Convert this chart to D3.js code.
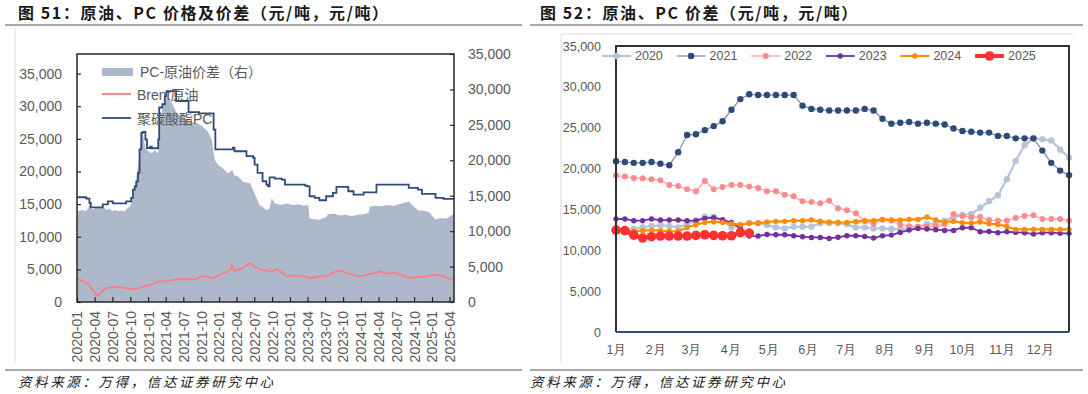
<!DOCTYPE html>
<html>
<head>
<meta charset="utf-8">
<script src="https://cdn.jsdelivr.net/npm/d3@7"></script>
<style>
  body { margin: 0; background: #fff; }
  svg { display: block; font-family: "Liberation Sans", "Noto Sans CJK SC", sans-serif; }
</style>
</head>
<body>
<svg id="chart" width="1088" height="394"></svg>
<script>
// ---------- 图51 data ----------
const leftXLabels = ["2020-01","2020-04","2020-07","2020-10","2021-01","2021-04","2021-07","2021-10",
  "2022-01","2022-04","2022-07","2022-10","2023-01","2023-04","2023-07","2023-10",
  "2024-01","2024-04","2024-07","2024-10","2025-01","2025-04"];
const leftYTicks = [0, 5000, 10000, 15000, 20000, 25000, 30000, 35000];
const rightYTicks = [0, 5000, 10000, 15000, 20000, 25000, 30000, 35000];

// 聚碳酸酯PC (left axis, step changes)
const pcDates = ["2020-01-01","2020-02-18","2020-03-05","2020-03-12","2020-05-12","2020-06-08","2020-07-03",
  "2020-09-10","2020-10-06","2020-10-15","2020-10-24","2020-11-01","2020-11-10","2020-11-18","2020-11-27",
  "2020-12-05","2020-12-18","2020-12-26","2021-01-12","2021-01-20","2021-02-22","2021-02-27","2021-03-15",
  "2021-03-28","2021-04-05","2021-05-25","2021-07-28","2021-09-20","2021-12-04","2021-12-13","2022-03-13",
  "2022-03-22","2022-05-22","2022-06-25","2022-07-03","2022-07-18","2022-08-13","2022-09-01","2022-09-10",
  "2022-09-18","2022-10-15","2022-11-20","2022-12-06","2023-03-18","2023-03-30","2023-04-12","2023-05-08",
  "2023-06-01","2023-07-06","2023-08-10","2023-08-28","2023-10-28","2023-11-24","2024-01-15","2024-03-21",
  "2024-09-03","2024-10-20","2024-11-10","2025-01-19","2025-03-01","2025-04-24"];
const pcValues = [16050,15850,15200,14500,14950,15430,15100,
  15430,15950,17200,17700,18450,19800,23400,25900,
  26050,24900,23600,23800,23560,24900,29800,30300,
  31500,32300,30800,29100,28900,26400,23400,23650,
  23100,22350,22100,21050,19800,18500,18000,17730,
  19100,18900,18760,17990,17840,17730,16200,15950,
  15590,16200,16720,17640,16970,16460,16810,17990,
  17490,17230,16570,15950,15800,15750];

// Brent原油 (left axis)
const brentDates = ["2020-01-01","2020-01-20","2020-02-01","2020-02-20","2020-03-01","2020-03-20","2020-04-01",
  "2020-04-12","2020-04-22","2020-05-01","2020-05-15","2020-06-01","2020-07-01","2020-08-01","2020-09-01",
  "2020-10-01","2020-11-01","2020-12-01","2021-01-01","2021-02-01","2021-03-01","2021-04-01","2021-05-01",
  "2021-06-01","2021-07-01","2021-08-01","2021-09-01","2021-10-01","2021-11-01","2021-12-01","2022-01-01",
  "2022-02-01","2022-03-01","2022-03-08","2022-03-18","2022-04-01","2022-05-01","2022-06-01","2022-06-10",
  "2022-07-01","2022-08-01","2022-09-01","2022-10-01","2022-10-25","2022-11-15","2022-12-10","2023-01-01",
  "2023-02-01","2023-03-01","2023-04-20","2023-05-15","2023-07-15","2023-08-15","2023-09-20","2023-10-25",
  "2023-12-18","2024-01-15","2024-03-12","2024-04-09","2024-05-10","2024-06-20","2024-07-25","2024-09-10",
  "2024-10-10","2024-11-15","2025-01-18","2025-02-20","2025-04-10","2025-04-24"];
const brentValues = [3530,3350,3160,3000,2650,1890,1380,
  1150,950,1450,1800,2150,2250,2300,2150,
  2050,2000,2300,2550,2850,3150,3150,3350,
  3450,3550,3450,3500,3900,3950,3650,4100,
  4500,4950,5720,4800,4900,5200,5800,5980,
  5450,4950,4800,4650,5060,4700,4030,4000,
  4050,4000,3680,3830,4030,4540,4850,4350,
  3990,4030,4450,4700,4350,4550,4200,3680,
  3830,3830,4200,3990,3420,3680];

// PC-原油价差 (right axis)
const spreadDates = ["2020-01-01","2020-01-15","2020-02-01","2020-02-15","2020-02-28","2020-03-08","2020-03-20",
  "2020-04-01","2020-04-15","2020-05-01","2020-05-15","2020-06-01","2020-06-15","2020-07-01","2020-07-15",
  "2020-08-01","2020-08-15","2020-09-01","2020-09-15","2020-10-01","2020-10-10","2020-10-25","2020-11-10",
  "2020-11-25","2020-12-05","2020-12-18","2021-01-01","2021-01-20","2021-02-05","2021-02-20","2021-02-25",
  "2021-03-05","2021-03-20","2021-04-01","2021-04-10","2021-04-20","2021-05-05","2021-05-25","2021-06-15",
  "2021-07-05","2021-08-10","2021-09-15","2021-10-10","2021-11-05","2021-11-25","2021-12-10","2021-12-28",
  "2022-01-20","2022-02-15","2022-03-10","2022-03-20","2022-04-10","2022-05-05","2022-06-10","2022-07-02",
  "2022-07-28","2022-08-15","2022-09-01","2022-09-18","2022-09-29","2022-10-15","2022-11-15","2022-12-15",
  "2023-01-15","2023-02-15","2023-03-15","2023-04-05","2023-04-12","2023-05-01","2023-06-01","2023-07-07",
  "2023-07-15","2023-08-15","2023-09-15","2023-10-15","2023-11-15","2023-12-15","2024-01-15","2024-02-10",
  "2024-02-15","2024-03-15","2024-04-15","2024-05-15","2024-06-15","2024-07-15","2024-09-03","2024-09-25",
  "2024-10-23","2024-11-15","2024-12-15","2025-01-18","2025-02-15","2025-03-15","2025-04-15","2025-04-24"];
const spreadValues = [12700,12900,13000,12800,13300,14000,13000,
  13200,13400,13300,13500,13000,13200,12800,13000,
  12800,12900,12800,13200,13500,14170,16280,19100,
  23090,23800,21680,21300,21000,21400,21000,21700,
  26130,27540,28490,28950,28500,28020,26840,26200,
  25900,25430,25200,24730,24020,22850,20040,19330,
  18860,18160,18600,17900,17700,16980,16750,15350,
  13700,13400,13000,13200,14640,13940,13700,13900,
  13700,13800,13600,13700,11830,11700,11600,12000,
  12400,12500,12200,12300,12100,12300,12400,12600,
  13460,13600,13500,13700,13600,13800,14170,13600,
  12900,12900,12700,11690,11830,11800,12290,12500];

// ---------- 图52 data (weekly) ----------
const monthLabels = ["1月","2月","3月","4月","5月","6月","7月","8月","9月","10月","11月","12月"];
const yearLabels = ["2020","2021","2022","2023","2024","2025"];
const spread2020 = [12400,12470,12600,12800,12970,13040,12970,12800,13200,13620,14100,14100,13620,12800,
  13090,13330,13330,13090,12800,12680,12880,12880,12880,13330,13330,13330,13200,12800,12800,12680,
  12680,12600,12600,12680,12800,13200,13290,13620,14030,14320,14440,15200,16000,16730,18690,20940,
  22860,23680,23600,23430,22330,21350];
const spread2021 = [20900,20800,20700,20700,20800,20600,20400,22000,24100,24200,24700,25200,25800,27200,
  28500,29100,29000,29000,29000,29000,29000,27700,27300,27200,27100,27100,27100,27100,27300,27100,
  26100,25500,25600,25700,25500,25600,25500,25400,24900,24600,24500,24400,24400,24000,24000,23700,
  23700,23700,22200,20700,19750,19200];
const spread2022 = [19140,19020,18860,18820,18690,18570,18000,17880,17460,17220,18490,17460,17750,18000,
  18000,17800,17630,17220,17220,16800,16600,15990,15900,15750,16070,15150,14900,14520,13580,13250,
  13740,13640,13170,12940,12920,12920,12930,13200,14440,14200,14030,14100,13700,13620,13620,13950,
  14200,14280,13830,13830,13830,13620];
const spread2023 = [13830,13830,13620,13620,13830,13700,13700,13700,13620,13620,13900,13990,13740,13400,
  12700,11740,11740,11940,11900,11900,11780,11660,11570,11570,11450,11600,11780,11780,11700,11500,
  11780,11860,12190,12470,12680,12600,12520,12430,12430,12760,12760,12270,12300,12150,12270,12190,
  12150,11980,12150,12150,12070,12070];
const spread2024 = [12400,12330,12330,12400,12470,12400,12330,12330,12800,13130,13400,13500,13400,13250,
  13130,13300,13300,13460,13540,13540,13620,13620,13700,13540,13460,13400,13400,13500,13620,13620,
  13780,13700,13700,13780,13780,14070,13700,13460,13540,13370,13330,13460,13250,13170,12920,12550,
  12550,12550,12550,12550,12550,12550];
const spread2025 = [12480,12400,11860,11500,11660,11740,11740,11740,11740,11820,11900,11820,11780,11780,
  12150,12100];

const yearSeries = [spread2020, spread2021, spread2022, spread2023, spread2024, spread2025];
const yearStyles = [
  {dot: "#B7C4D8", line: "#B7C4D8", width: 2.2, r: 3.2},
  {dot: "#2E4A7A", line: "#7E92B4", width: 1.3, r: 3.2},
  {dot: "#FF8A8E", line: "#FFA0A4", width: 1.3, r: 3.0},
  {dot: "#7030A0", line: "#7030A0", width: 1.8, r: 2.7},
  {dot: "#FF8C00", line: "#FF8C00", width: 2.2, r: 2.7},
  {dot: "#FF3030", line: "#FF3030", width: 4, r: 4.8}
];

const parse = d3.timeParse("%Y-%m-%d");
const parseMonth = d3.timeParse("%Y-%m");
const svg = d3.select("#chart");
const labelColor = "#595959";

// ---------- page furniture ----------
svg.append("text").attr("x", 18).attr("y", 19)
  .attr("font-family", "Noto Sans CJK SC").attr("font-size", 16).attr("font-weight", "bold")
  .attr("letter-spacing", 1.6).attr("fill", "#1a1a1a")
  .text("图 51：原油、PC 价格及价差（元/吨，元/吨）");
svg.append("text").attr("x", 540).attr("y", 19)
  .attr("font-family", "Noto Sans CJK SC").attr("font-size", 16).attr("font-weight", "bold")
  .attr("letter-spacing", 1.6).attr("fill", "#1a1a1a")
  .text("图 52：原油、PC 价差（元/吨，元/吨）");

[[5, 522], [530, 1083]].forEach(([a, b]) => {
  svg.append("line").attr("x1", a).attr("x2", b).attr("y1", 25).attr("y2", 25)
    .attr("stroke", "#8c8c8c").attr("stroke-width", 1.5);
  svg.append("line").attr("x1", a).attr("x2", b).attr("y1", 370).attr("y2", 370)
    .attr("stroke", "#8c8c8c").attr("stroke-width", 1.5);
});
[18, 530].forEach(x => {
  svg.append("text").attr("x", x).attr("y", 387)
    .attr("font-family", "Noto Sans CJK SC").attr("font-size", 13.5).attr("font-style", "italic")
    .attr("letter-spacing", 2.6).attr("fill", "#1a1a1a")
    .text("资料来源：万得，信达证券研究中心");
});

// chart area borders
svg.append("line").attr("x1", 15).attr("x2", 15).attr("y1", 27).attr("y2", 363)
  .attr("stroke", "#d9d9d9");
svg.append("path").attr("d", "M561,363V34H1073")
  .attr("fill", "none").attr("stroke", "#d9d9d9");

// ---------- 图51 ----------
const L = {left: 77, right: 454, top: 54, bottom: 302};
const xL = d3.scaleTime().domain([parse("2020-01-01"), parse("2025-04-24")]).range([L.left, L.right]);
const yL = d3.scaleLinear().domain([0, 38000]).range([L.bottom, L.top]);
const yR = d3.scaleLinear().domain([0, 35000]).range([L.bottom, L.top]);

const spread = spreadDates.map((d, i) => ({date: parse(d), value: spreadValues[i]}));
const brent = brentDates.map((d, i) => ({date: parse(d), value: brentValues[i]}));
const pc = pcDates.map((d, i) => ({date: parse(d), value: pcValues[i]}));

svg.append("defs").append("clipPath").attr("id", "clipL")
  .append("rect").attr("x", L.left).attr("y", L.top)
  .attr("width", L.right - L.left).attr("height", L.bottom - L.top);

const gL = svg.append("g");
const plotL = gL.append("g").attr("clip-path", "url(#clipL)");

plotL.append("path").datum(spread)
  .attr("fill", "#ADB9CA")
  .attr("d", d3.area().x(d => xL(d.date)).y0(yR(0)).y1(d => yR(d.value)));

plotL.append("path").datum(brent)
  .attr("fill", "none").attr("stroke", "#FF7C80").attr("stroke-width", 1.8)
  .attr("d", d3.line().x(d => xL(d.date)).y(d => yL(d.value)));

plotL.append("path").datum(pc)
  .attr("fill", "none").attr("stroke", "#2F4B7C").attr("stroke-width", 1.8)
  .attr("d", d3.line().curve(d3.curveStepAfter).x(d => xL(d.date)).y(d => yL(d.value)));

// axes
const fmt = d3.format(",");
const axL = gL.append("g").attr("transform", `translate(${L.left},0)`)
  .call(d3.axisLeft(yL).tickValues(leftYTicks).tickSize(-4).tickPadding(15).tickFormat(fmt));
const axR = gL.append("g").attr("transform", `translate(${L.right},0)`)
  .call(d3.axisRight(yR).tickValues(rightYTicks).tickSize(-4).tickPadding(14).tickFormat(fmt));
const axB = gL.append("g").attr("transform", `translate(0,${L.bottom})`)
  .call(d3.axisBottom(xL).tickValues(leftXLabels.map(parseMonth)).tickSize(-5)
    .tickFormat(d3.timeFormat("%Y-%m")));
axB.selectAll("text")
  .attr("transform", "rotate(-90)")
  .attr("x", -9).attr("y", 0).attr("dy", "0.35em")
  .style("text-anchor", "end");
[axL, axR, axB].forEach(ax => {
  ax.select(".domain").remove();
  ax.selectAll("line").attr("stroke", "#262626").attr("stroke-width", 1.2);
  ax.selectAll("text").attr("fill", labelColor).attr("font-size", 14)
    .attr("font-family", "Liberation Sans");
});

gL.append("rect").attr("x", L.left).attr("y", L.top)
  .attr("width", L.right - L.left).attr("height", L.bottom - L.top)
  .attr("fill", "none").attr("stroke", "#262626").attr("stroke-width", 1.5);

// legend
const legL = gL.append("g").attr("font-size", 14).attr("fill", labelColor);
legL.append("rect").attr("x", 102).attr("y", 68).attr("width", 31).attr("height", 8).attr("fill", "#ADB9CA");
legL.append("text").attr("x", 140).attr("y", 72).attr("dy", "0.35em").text("PC-原油价差（右）");
legL.append("line").attr("x1", 102).attr("x2", 131).attr("y1", 94).attr("y2", 94)
  .attr("stroke", "#FF7C80").attr("stroke-width", 1.8);
legL.append("text").attr("x", 137).attr("y", 95).attr("dy", "0.35em").text("Brent原油");
legL.append("line").attr("x1", 102).attr("x2", 131).attr("y1", 118).attr("y2", 118)
  .attr("stroke", "#2F4B7C").attr("stroke-width", 1.8);
legL.append("text").attr("x", 137).attr("y", 119).attr("dy", "0.35em").text("聚碳酸酯PC");

// ---------- 图52 ----------
const R = {left: 616, right: 1069, top: 46, bottom: 332};
const xW = d3.scaleLinear().domain([0, 51]).range([R.left, R.right]);
const yW = d3.scaleLinear().domain([0, 35000]).range([R.bottom, R.top]);

const gR = svg.append("g");

const axWL = gR.append("g").attr("transform", `translate(${R.left},0)`)
  .call(d3.axisLeft(yW).tickValues(rightYTicks).tickSize(0).tickPadding(15).tickFormat(fmt));
// month labels at the week where each month starts
const monthPos = monthLabels.map((m, i) => d3.timeDay.count(new Date(2021, 0, 1), new Date(2021, i, 1)) / 7);
const axWB = gR.append("g").attr("transform", `translate(0,${R.bottom})`)
  .call(d3.axisBottom(xW).tickValues(monthPos).tickSize(0).tickPadding(13)
    .tickFormat((d, i) => monthLabels[i]));
[axWL, axWB].forEach(ax => {
  ax.select(".domain").remove();
  ax.selectAll("text").attr("fill", labelColor).attr("font-size", 12.5);
});

const lineW = d3.line().x((d, i) => xW(i)).y(d => yW(d));
yearSeries.forEach((vals, k) => {
  const st = yearStyles[k];
  const g = gR.append("g");
  g.append("path").datum(vals)
    .attr("fill", "none").attr("stroke", st.line).attr("stroke-width", st.width)
    .attr("stroke-linejoin", "round").attr("d", lineW);
  g.selectAll("circle").data(vals).join("circle")
    .attr("cx", (d, i) => xW(i)).attr("cy", d => yW(d)).attr("r", st.r)
    .attr("fill", st.dot);
});

// frame
gR.append("path").attr("d", `M${R.left},${R.bottom}V${R.top}H${R.right}V${R.bottom}`)
  .attr("fill", "none").attr("stroke", "#333333").attr("stroke-width", 2);
gR.append("line").attr("x1", R.left).attr("x2", R.right).attr("y1", R.bottom).attr("y2", R.bottom)
  .attr("stroke", "#2F4B7C").attr("stroke-width", 2);

// legend
const legR = gR.append("g").attr("font-size", 12.5).attr("fill", labelColor);
yearLabels.forEach((y, k) => {
  const st = yearStyles[k];
  const x0 = 602 + k * 74.6;
  legR.append("line").attr("x1", x0).attr("x2", x0 + 29).attr("y1", 56).attr("y2", 56)
    .attr("stroke", st.line).attr("stroke-width", st.width);
  legR.append("circle").attr("cx", x0 + 14.5).attr("cy", 56).attr("r", st.r).attr("fill", st.dot);
  legR.append("text").attr("x", x0 + 33).attr("y", 56).attr("dy", "0.35em").text(y);
});
</script>
</body>
</html>
